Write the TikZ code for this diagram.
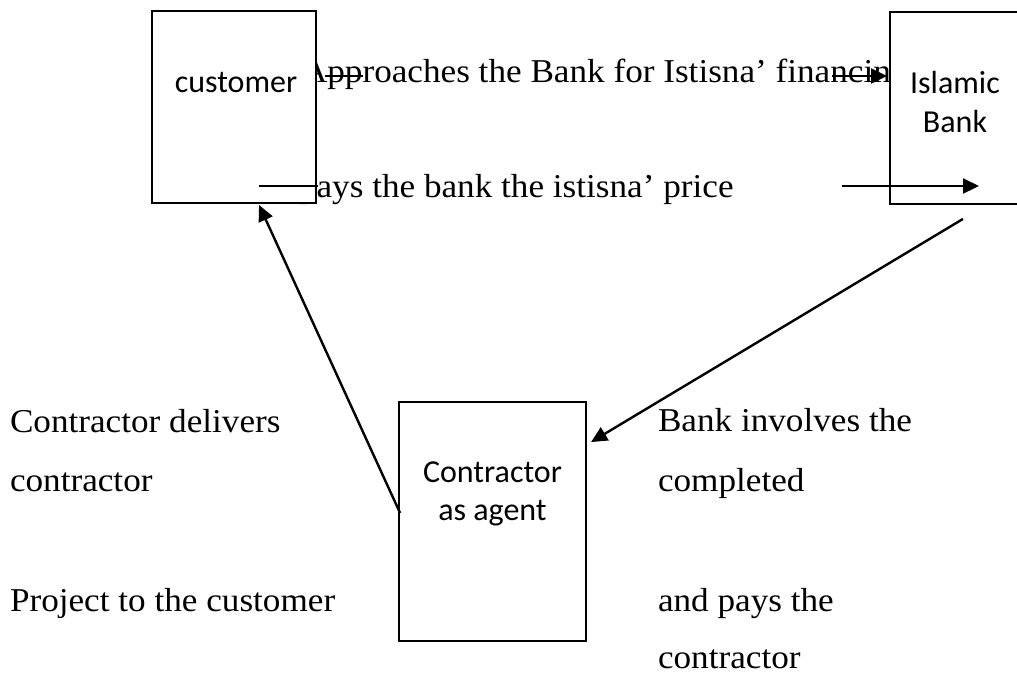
\documentclass[tikz,border=0pt]{standalone}
\usepackage{fontspec}
\setmainfont{Liberation Serif}[FakeStretch=1.055]
\newfontfamily\boxfont{Carlito}
\usetikzlibrary{arrows.meta}
\tikzset{
  every node/.style={inner sep=0pt, outer sep=0pt},
  lbl/.style={font=\fontsize{12.5}{14}\selectfont, anchor=base west},
  boxlbl/.style={font=\boxfont\fontsize{12}{14}\selectfont, anchor=base},
  box/.style={draw, line width=0.8pt, fill=white},
  conn/.style={line width=0.9pt},
  arr/.style={conn, -{Triangle[length=6pt,width=5.6pt]}},
}
\begin{document}
\begin{tikzpicture}[x=0.375pt,y=-0.375pt]
\useasboundingbox (0,0) rectangle (1017,674);
% free texts
\node[lbl] (t1) at (302,82) {Approaches the Bank for Istisna’ financing};
\node[lbl] (t2) at (299,197) {pays the bank the istisna’ price};
\node[lbl] (l1) at (10,432) {Contractor delivers};
\node[lbl] (l2) at (10,491) {contractor};
\node[lbl] (l3) at (10,611) {Project to the customer};
\node[lbl] (r1) at (658,431) {Bank involves the};
\node[lbl] (r2) at (658,491) {completed};
\node[lbl] (r3) at (658,611) {and pays the};
\node[lbl] (r4) at (658,668) {contractor};
% boxes
\node[box, minimum width=164*0.375pt, minimum height=192*0.375pt] (customer) at (234,107) {};
\node[box, minimum width=140*0.375pt, minimum height=192*0.375pt] (bank) at (960,108) {};
\node[box, minimum width=187*0.375pt, minimum height=239*0.375pt] (contractor) at (492.5,521.5) {};
\node[boxlbl] (customerlbl) at (236,92) {customer};
\node[boxlbl] (banklbla) at (955,93) {Islamic};
\node[boxlbl] (banklblb) at (955,132) {Bank};
\node[boxlbl] (contrlbla) at (492.5,482) {Contractor};
\node[boxlbl] (contrlblb) at (492.5,520) {as agent};
% connectors
\coordinate (ta) at (325,76);
\coordinate (tb) at (363,76);
\coordinate (tc) at (832,76);
\draw[conn] (ta) -- (tb);
\draw[arr, shorten >=1.1pt] (tc) -- (bank.west |- tc);
\coordinate (pa) at (259,186);
\draw[conn] (pa) -- ([xshift=0.75pt]customer.east |- pa);
\coordinate (pb) at (842,186);
\coordinate (pc) at (979,186);
\draw[arr] (pb) -- (pc);
\draw[arr] ([xshift=1.1pt,yshift=-5.6pt]bank.south) -- ([xshift=1.9pt,yshift=29.8pt]contractor.east);
\draw[arr] ([xshift=0.4pt,yshift=3.2pt]contractor.west) -- ([xshift=9.4pt,yshift=-0.75pt]customer.south);
\end{tikzpicture}
\end{document}
